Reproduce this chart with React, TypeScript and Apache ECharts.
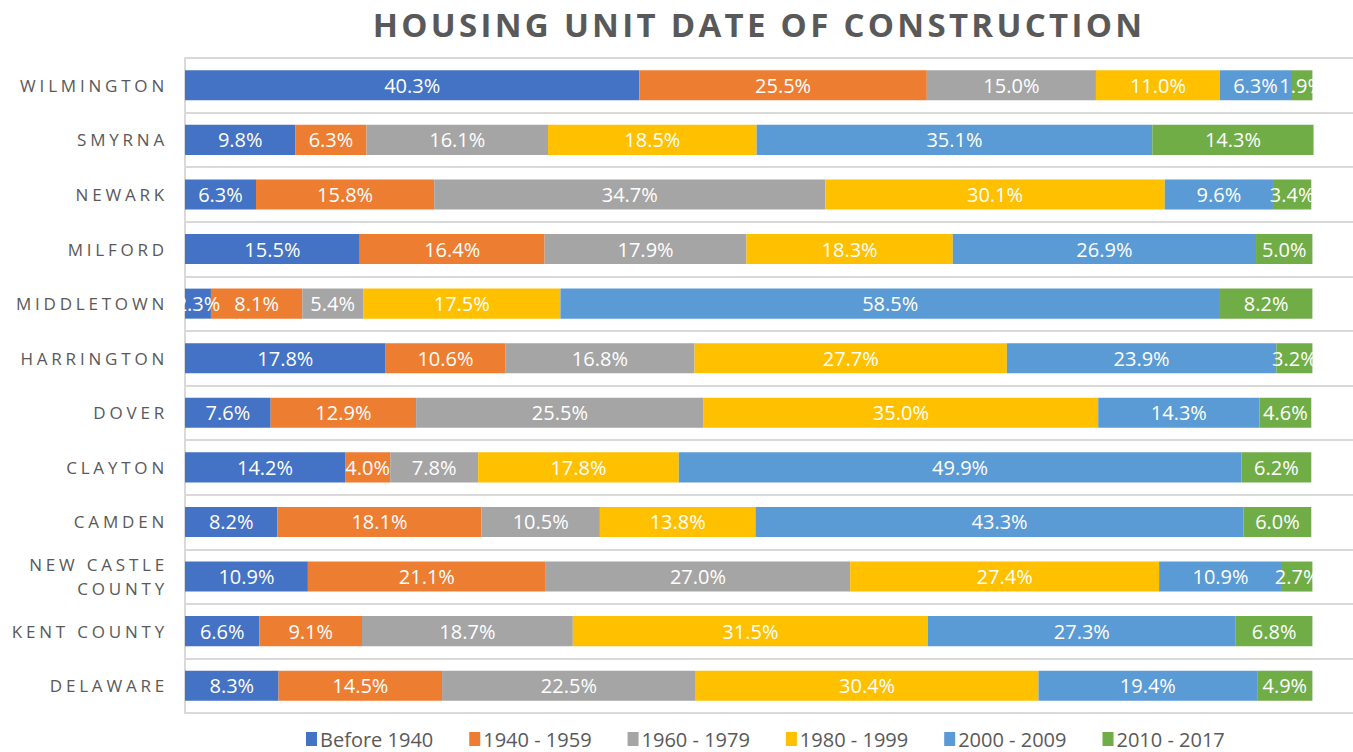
import React, { useEffect, useRef } from "react";
import * as echarts from "echarts";

const categories = [
  "DELAWARE",
  "KENT COUNTY",
  "NEW CASTLE\nCOUNTY",
  "CAMDEN",
  "CLAYTON",
  "DOVER",
  "HARRINGTON",
  "MIDDLETOWN",
  "MILFORD",
  "NEWARK",
  "SMYRNA",
  "WILMINGTON",
];

const seriesNames = ["Before 1940", "1940 - 1959", "1960 - 1979", "1980 - 1999", "2000 - 2009", "2010 - 2017"];

const before1940 = [8.3, 6.6, 10.9, 8.2, 14.2, 7.6, 17.8, 2.3, 15.5, 6.3, 9.8, 40.3];
const y1940to1959 = [14.5, 9.1, 21.1, 18.1, 4.0, 12.9, 10.6, 8.1, 16.4, 15.8, 6.3, 25.5];
const y1960to1979 = [22.5, 18.7, 27.0, 10.5, 7.8, 25.5, 16.8, 5.4, 17.9, 34.7, 16.1, 15.0];
const y1980to1999 = [30.4, 31.5, 27.4, 13.8, 17.8, 35.0, 27.7, 17.5, 18.3, 30.1, 18.5, 11.0];
const y2000to2009 = [19.4, 27.3, 10.9, 43.3, 49.9, 14.3, 23.9, 58.5, 26.9, 9.6, 35.1, 6.3];
const y2010to2017 = [4.9, 6.8, 2.7, 6.0, 6.2, 4.6, 3.2, 8.2, 5.0, 3.4, 14.3, 1.9];

const seriesValues = [before1940, y1940to1959, y1960to1979, y1980to1999, y2000to2009, y2010to2017];
const colors = ["#4472C4", "#ED7D31", "#A5A5A5", "#FFC000", "#5B9BD5", "#70AD47"];

const TITLE = "HOUSING UNIT DATE OF CONSTRUCTION";

export default function App() {
  const ref = useRef<HTMLDivElement>(null);
  useEffect(() => {
    if (!ref.current) return;
    const chart = echarts.init(ref.current, undefined, { renderer: "svg" });
    chart.setOption({
      animation: false,
      title: {
        text: TITLE,
        left: 754,
        top: 3,
        textAlign: "center",
        textStyle: {
          fontFamily: "Open Sans",
          fontWeight: "bold",
          fontSize: 33,
          color: "#595959",
        },
      },
      legend: {
        bottom: -2,
        left: 301,
        itemWidth: 11,
        itemHeight: 14,
        itemGap: 36,
        icon: "rect",
        textStyle: { fontFamily: "Open Sans", fontSize: 20, color: "#595959", padding: [0, 0, 0, -2] },
        data: seriesNames,
      },
      grid: { left: 185, right: 0, top: 58, bottom: 39, containLabel: false },
      xAxis: {
        type: "value",
        min: 0,
        max: 103.6,
        show: false,
      },
      yAxis: {
        type: "category",
        data: categories,
        axisLine: { show: true, lineStyle: { color: "#D9D9D9", width: 2 } },
        axisTick: { show: false },
        splitLine: { show: true, interval: 0, lineStyle: { color: "#D9D9D9", width: 2 } },
        axisLabel: {
          margin: 17,
          fontFamily: "Open Sans",
          fontSize: 17,
          color: "#595959",
          lineHeight: 24,
          align: "right",
        },
      },
      series: seriesNames.map((name, i) => ({
        name,
        type: "bar",
        stack: "total",
        barCategoryGap: "45%",
        itemStyle: { color: colors[i] },
        label: {
          show: true,
          position: "inside",
          color: "#FFFFFF",
          fontFamily: "Open Sans",
          fontSize: 20,
          formatter: (p: any) => `${Number(p.value).toFixed(1)}%`,
        },
        data: seriesValues[i],
      })),
    });
    try {
      (chart.getZr() as any).flush();
    } catch (e) {}
    const catSet = new Set<string>();
    categories.forEach((c) => c.split("\n").forEach((s) => catSet.add(s)));
    ref.current.querySelectorAll("text").forEach((t) => {
      const s = (t.textContent || "").trim();
      if (s === TITLE) {
        t.setAttribute("letter-spacing", "3.3");
      } else if (catSet.has(s)) {
        t.setAttribute("letter-spacing", "3.8");
      }
    });
    return () => chart.dispose();
  }, []);
  return <div ref={ref} style={{ width: 1353, height: 752, position: "absolute", left: 0, top: 0 }} />;
}
